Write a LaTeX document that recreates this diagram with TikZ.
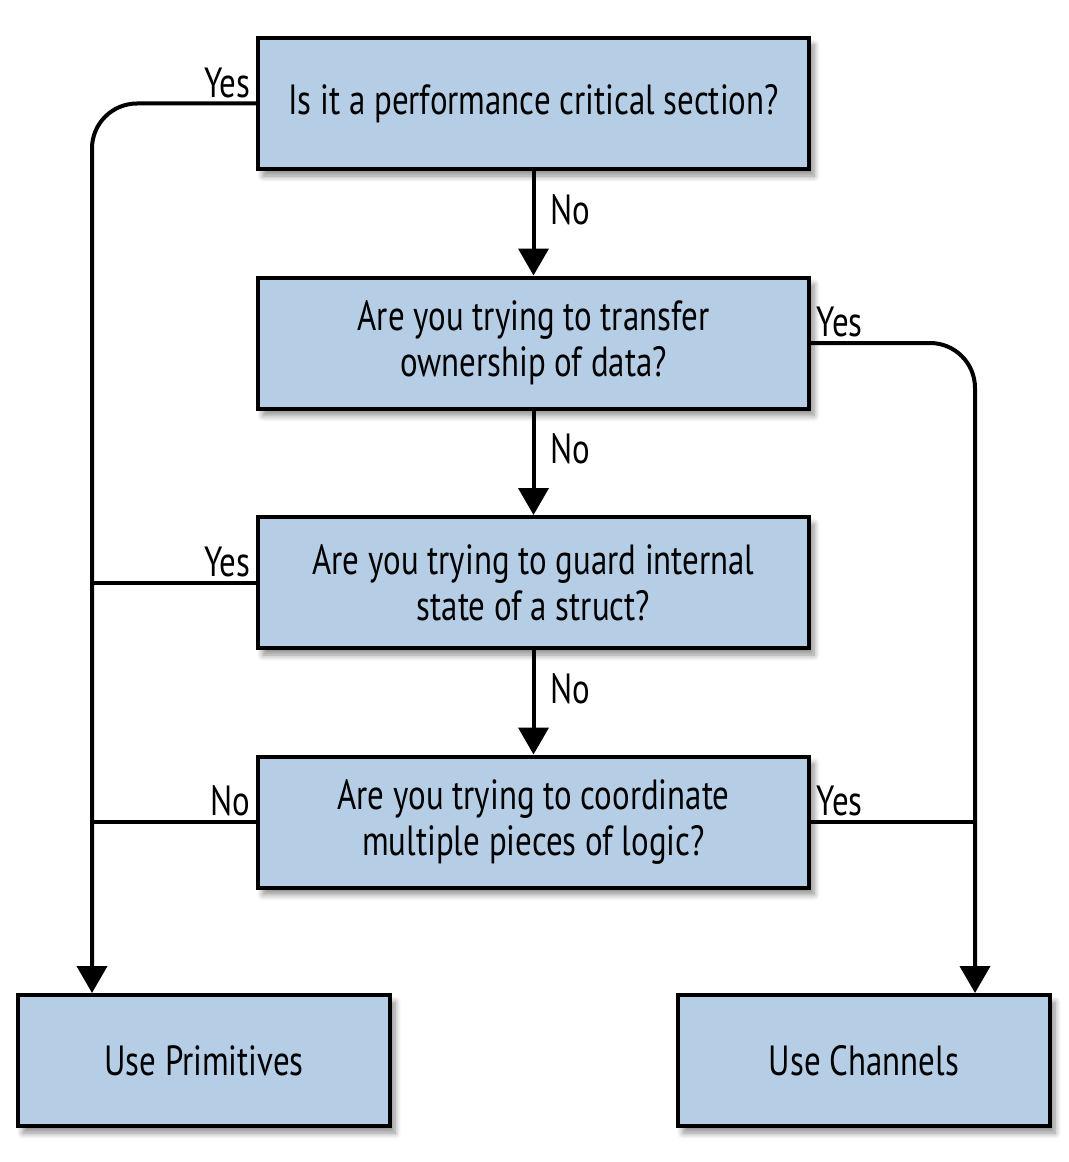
\documentclass[tikz,border=0pt]{standalone}
\usepackage{fontspec}
\setmainfont[FakeStretch=0.78]{PT Sans}
\usepackage{tikz}
\usetikzlibrary{arrows.meta,shadows.blur}

\definecolor{boxblue}{RGB}{181,206,230}

\tikzset{
	box/.style={draw, line width=0.08cm, fill=boxblue, align=center, inner sep=0pt,
		minimum height=2.62cm, blur shadow={shadow xshift=0.1cm, shadow yshift=-0.14cm, shadow blur steps=8, shadow blur radius=0.12cm, shadow opacity=45}},
	qbox/.style={box, minimum width=11.02cm},
	abox/.style={box, minimum width=7.44cm},
	line/.style={line width=0.08cm},
	flow/.style={line, -{Triangle[width=0.6cm,length=0.54cm]}},
	lbl/.style={inner sep=3pt}
}

\begin{document}
\begin{tikzpicture}[font=\fontsize{24}{26}\selectfont]
	\useasboundingbox (0,0) rectangle (21.36,-23.24);
	\begin{scope}
	\coordinate (left) at (1.84,0);
	\coordinate (right) at (19.5,0);

	\node[qbox] (perf) at (10.67,-2.07) {Is it a performance critical section?};
	\node[qbox] (owner) at (10.67,-6.86) {Are you trying to transfer\\ownership of data?};
	\node[qbox] (guard) at (10.67,-11.65) {Are you trying to guard internal\\state of a struct?};
	\node[qbox] (coord) at (10.67,-16.44) {Are you trying to coordinate\\multiple pieces of logic?};
	\node[abox] (prim) at (4.08,-21.21) {Use Primitives};
	\node[abox] (chan) at (17.28,-21.21) {Use Channels};

	% down the middle
	\draw[flow] (perf) -- node[lbl, right, pos=0.37, xshift=0.2cm] {No} (owner);
	\draw[flow] (owner) -- node[lbl, right, pos=0.37, xshift=0.2cm] {No} (guard);
	\draw[flow] (guard) -- node[lbl, right, pos=0.37, xshift=0.2cm] {No} (coord);

	% left side
	\draw[flow, rounded corners=0.9cm] (perf.west) -| (prim.north -| left);
	\draw[line] (guard.west) -- (guard.west -| left);
	\draw[line] (coord.west) -- (coord.west -| left);
	\node[lbl, anchor=south east] at (perf.west) {Yes};
	\node[lbl, anchor=south east] at (guard.west) {Yes};
	\node[lbl, anchor=south east] at (coord.west) {No};

	% right side
	\draw[flow, rounded corners=0.9cm] (owner.east) -| (chan.north -| right);
	\draw[line] (coord.east) -- (coord.east -| right);
	\node[lbl, anchor=south west] at (owner.east) {Yes};
	\node[lbl, anchor=south west] at (coord.east) {Yes};
	\end{scope}
\end{tikzpicture}
\end{document}
